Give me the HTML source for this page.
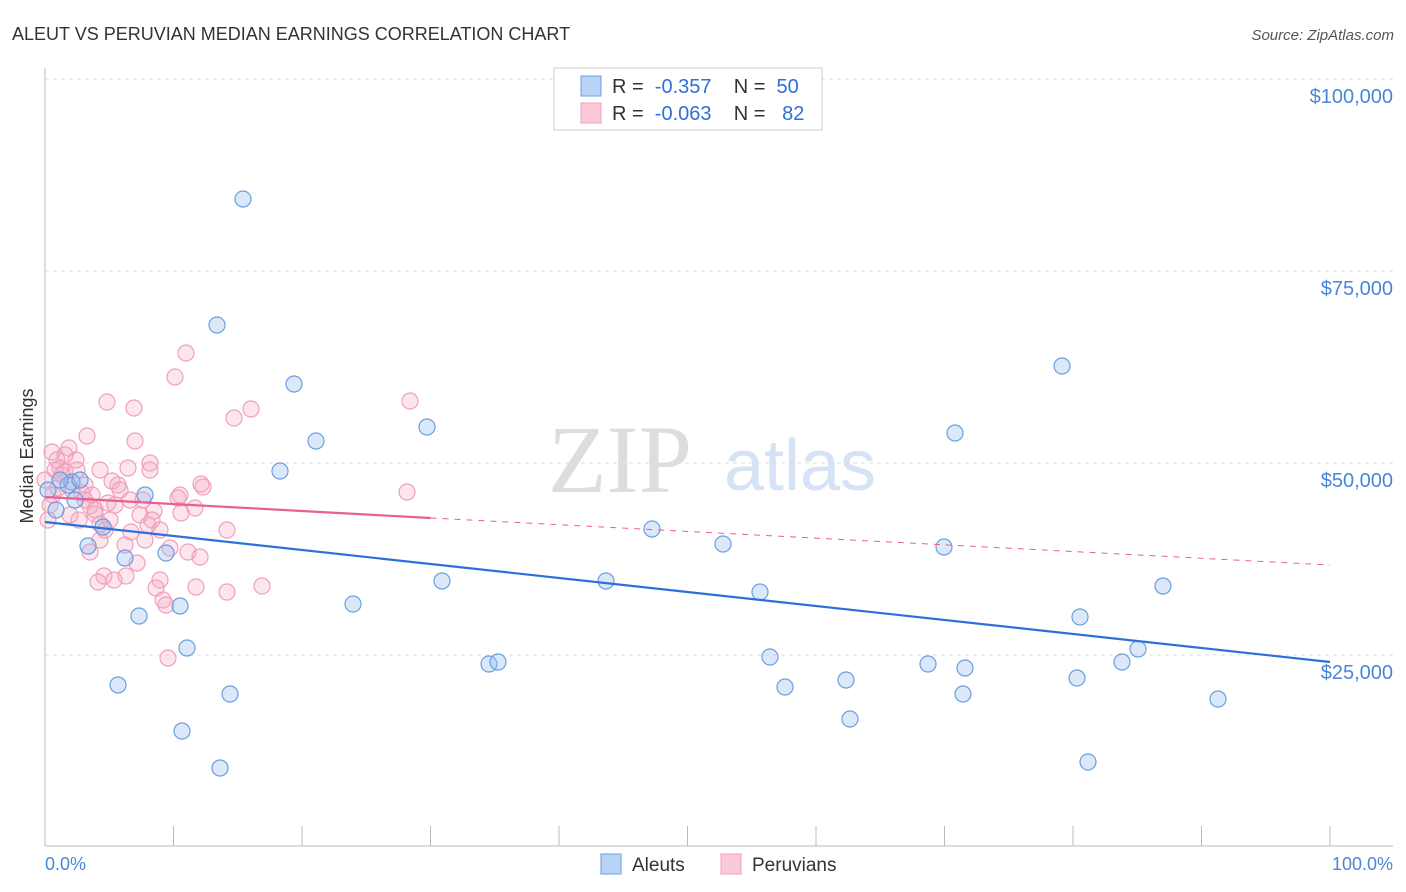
<!DOCTYPE html>
<html><head><meta charset="utf-8"><style>
body{margin:0;background:#fff;font-family:"Liberation Sans",sans-serif;}
svg{display:block}
</style></head><body>
<svg id="c" width="1406" height="892">
<text x="12" y="40" font-size="18" fill="#333">ALEUT VS PERUVIAN MEDIAN EARNINGS CORRELATION CHART</text>
<text x="1394" y="40" font-size="15" fill="#555" font-style="italic" text-anchor="end">Source: ZipAtlas.com</text>
<text x="33" y="456" font-size="18" fill="#333" transform="rotate(-90 33 456)" text-anchor="middle">Median Earnings</text>
<text x="620" y="492" font-size="96" fill="#ddd" font-family="Liberation Serif,serif" text-anchor="middle">ZIP</text>
<text x="800" y="490" font-size="72" fill="#d5e3f5" text-anchor="middle">atlas</text>
<g id="grid"></g><g id="marks"></g>
<g>
<rect x="554" y="68" width="268" height="62" fill="#fff" stroke="#ccc"/>
<rect x="581" y="76" width="20" height="20" fill="#b8d3f5" stroke="#6a9fe0"/>
<rect x="581" y="103" width="20" height="20" fill="#fbcad9" stroke="#f0a0bb"/>
<text x="612" y="93" font-size="20" fill="#333" xml:space="preserve">R =  <tspan fill="#2f6fd6">-0.357</tspan>    N =  <tspan fill="#2f6fd6">50</tspan></text>
<text x="612" y="120" font-size="20" fill="#333" xml:space="preserve">R =  <tspan fill="#2f6fd6">-0.063</tspan>    N =  <tspan fill="#2f6fd6"> 82</tspan></text>
</g>
<g>
<rect x="601" y="854" width="20" height="20" fill="#b8d3f5" stroke="#6a9fe0"/>
<text x="632" y="871" font-size="19" fill="#333">Aleuts</text>
<rect x="721" y="854" width="20" height="20" fill="#fbcad9" stroke="#f0a0bb"/>
<text x="752" y="871" font-size="19" fill="#333">Peruvians</text>
</g>
<text x="45" y="870" font-size="18" fill="#4a86d8">0.0%</text>
<text x="1393" y="870" font-size="18" fill="#4a86d8" text-anchor="end">100.0%</text>
</svg>
<script>
const yTicks=[25000,50000,75000,100000];
const yTickLabels=["$25,000","$50,000","$75,000","$100,000"];
const blueX=[243,217,294,1062,316,427,955,280,145,72,68,56,88,652,723,944,125,166,442,606,760,1163,139,180,353,1080,187,1138,489,498,770,928,965,1122,118,230,785,846,963,1077,1218,850,182,220,1088,80,103,60,48,75].map(p=>(p-45)/12.85);
const blueY=[199,325,384,366,441,427,433,471,495,482,485,510,546,529,544,547,558,553,581,581,592,586,616,606,604,617,648,649,664,662,657,664,668,662,685,694,687,680,694,678,699,719,731,768,762,480,527,480,490,500].map(p=>Math.round(25000+(654-p)*130.2));
const pinkX=[186,175,107,134,410,251,234,87,135,69,52,57,76,60,65,150,128,407,112,118,201,203,82,53,143,178,108,195,90,154,181,95,79,100,148,227,131,100,170,90,188,200,137,104,126,160,98,114,262,196,156,227,163,166,168,48,55,65,72,85,95,110,120,150,45,58,62,140,152,100,115,92,130,77,50,70,85,105,125,160,145,180].map(p=>(p-45)/12.85);
const pinkY=[353,377,402,408,401,409,418,436,441,448,452,460,460,468,472,463,468,492,481,485,484,487,493,495,500,498,503,508,506,511,513,514,520,524,525,530,532,540,548,552,552,557,563,576,576,580,582,580,586,587,588,592,600,605,658,520,470,455,490,500,510,520,490,470,480,488,475,515,520,470,505,495,500,470,505,515,485,530,545,530,540,495].map(p=>Math.round(25000+(654-p)*130.2));
const blueTrend=[42190,23960];
const pinkTrend=[45440,42710,36590];
const X=v=>45+v*12.85, Y=v=>654-(v-25000)*192/25000;
const NS="http://www.w3.org/2000/svg";
const grid=document.getElementById('grid'),marks=document.getElementById('marks');
function mk(tag,at,parent){const e=document.createElementNS(NS,tag);for(const k in at)e.setAttribute(k,at[k]);parent.appendChild(e);return e;}
yTicks.forEach((t,i)=>{
 const l=mk('line',{x1:45,x2:1393,y1:Y(t)+1,y2:Y(t)+1,stroke:'#ddd','stroke-dasharray':'4,4'},grid);
 
 
 const tx=mk('text',{x:1393,y:Y(t)+25,'font-size':20,fill:'#4a86d8','text-anchor':'end'},grid);
 tx.textContent=yTickLabels[i];
 
 
});
mk('line',{x1:45,x2:45,y1:68,y2:846,stroke:'#bbb'},grid);
mk('line',{x1:45,x2:1393,y1:846,y2:846,stroke:'#bbb'},grid);
for(let i=1;i<=10;i++){const t=mk('line',{x1:X(i*10),x2:X(i*10),y1:826,y2:846,stroke:'#bbb'},grid);
 
 }
pinkX.forEach((x,i)=>{const c=mk('circle',{cx:X(x),cy:Y(pinkY[i]),r:8,fill:'rgba(245,170,195,0.3)',stroke:'#f0a0bb','stroke-width':1.2},marks);
 
 });
blueX.forEach((x,i)=>{const c=mk('circle',{cx:X(x),cy:Y(blueY[i]),r:8,fill:'rgba(150,190,240,0.35)',stroke:'#6a9fe0','stroke-width':1.2},marks);
 
 });
const bt=mk('line',{x1:X(0),x2:X(100),y1:Y(blueTrend[0]),y2:Y(blueTrend[1]),stroke:'#2d6fd8','stroke-width':2.2},marks);


const pt=mk('line',{x1:X(0),x2:X(30),y1:Y(pinkTrend[0]),y2:Y(pinkTrend[1]),stroke:'#e8608f','stroke-width':2.2},marks);


const pd=mk('line',{x1:X(30),x2:X(100),y1:Y(pinkTrend[1]),y2:Y(pinkTrend[2]),stroke:'#e8608f','stroke-width':1,'stroke-dasharray':'6,6'},marks);


</script>
</body></html>
